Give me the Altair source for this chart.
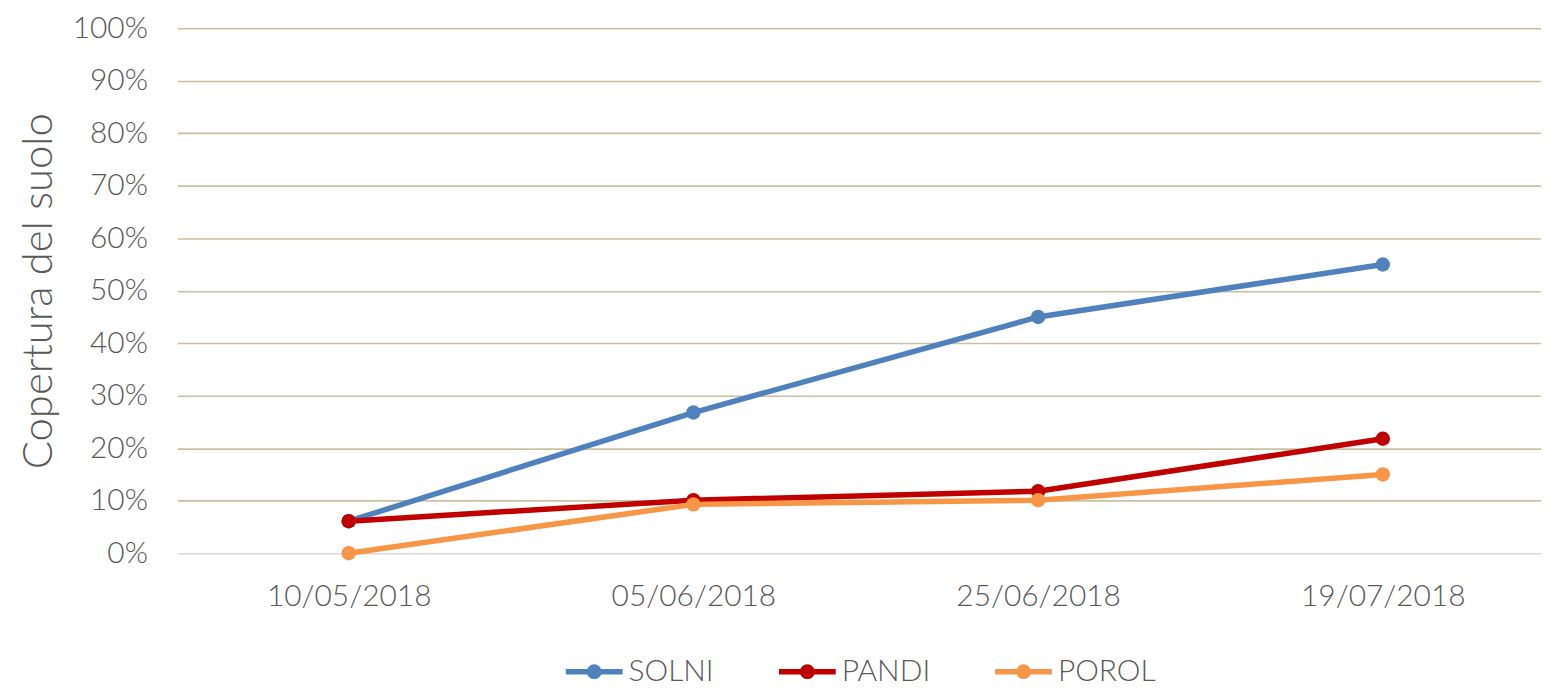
import altair as alt
import pandas as pd

dates = ["10/05/2018", "05/06/2018", "25/06/2018", "19/07/2018"]
series = ["SOLNI", "PANDI", "POROL"]
solni = [0.061, 0.268, 0.450, 0.550]
pandi = [0.061, 0.101, 0.118, 0.218]
porol = [0.000, 0.093, 0.101, 0.150]
colors = ["#4F81BD", "#C00000", "#F79646"]

rows = []
for name, vals in zip(series, [solni, pandi, porol]):
    for d, v in zip(dates, vals):
        rows.append({"Data": d, "Serie": name, "Valore": v})
df = pd.DataFrame(rows)

FONT = "Lato"
TXT = "#595959"

# line with a filled-looking dot (stroke only, scaled by sqrt(size)/2)
legend_symbol = ("M-1,0 H1 "
                 "M0.165,0 A0.165,0.165 0 1,1 -0.165,0 A0.165,0.165 0 1,1 0.165,0 "
                 "M0.065,0 A0.065,0.065 0 1,1 -0.065,0 A0.065,0.065 0 1,1 0.065,0")

x = alt.X("Data:N", sort=dates, title=None,
          scale=alt.Scale(type="point", padding=0.478, align=0.52),
          axis=alt.Axis(labelAngle=0, domain=False, ticks=False, grid=False,
                        labelFont=FONT, labelFontSize=30, labelFontWeight=300,
                        labelColor=TXT, labelPadding=29))
y = alt.Y("Valore:Q", title="Copertura del suolo",
          scale=alt.Scale(domain=[0, 1], nice=False),
          axis=alt.Axis(format=".0%", values=[i / 10 for i in range(11)],
                        domain=False, ticks=False,
                        gridColor={"condition": {"test": "datum.value === 0", "value": "#D9D9D9"}, "value": "#C8C0A0"},
                        gridWidth=1.6,
                        labelFont=FONT, labelFontSize=30, labelFontWeight=300,
                        labelColor=TXT, labelPadding=30,
                        titleFont=FONT, titleFontSize=42, titleFontWeight=300,
                        titleColor=TXT, titlePadding=12))
color = alt.Color("Serie:N", sort=series,
                  scale=alt.Scale(domain=series, range=colors),
                  legend=alt.Legend(title=None, orient="none", direction="horizontal",
                                    legendX=387, legendY=614,
                                    symbolType=legend_symbol, symbolSize=3249,
                                    symbolStrokeWidth=5.5, symbolOpacity=1,
                                    labelFont=FONT, labelFontSize=30, labelFontWeight=300,
                                    labelColor=TXT, columnPadding=54, labelOffset=3))

chart = alt.Chart(df).mark_line(
    strokeWidth=5.5, strokeCap="round",
    point=alt.OverlayMarkDef(filled=True, size=210, opacity=1),
).encode(x=x, y=y, color=color).properties(
    width=1369, height=527,
    autosize=alt.AutoSizeParams(type="none"),
    padding={"left": 170, "top": 19, "right": 0, "bottom": 137},
    background="white",
).configure_view(stroke=None)

chart.save("out.html", embed_options={"renderer": "svg", "actions": False})
